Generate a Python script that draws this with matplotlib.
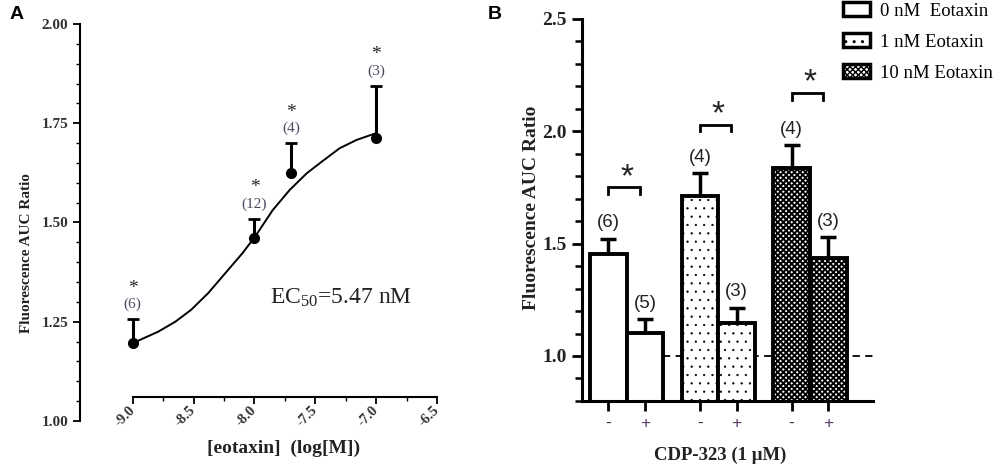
import numpy as np
import matplotlib
matplotlib.use("Agg")
import matplotlib.pyplot as plt
from matplotlib.patches import Patch

plt.rcParams['mathtext.default'] = 'regular'
plt.rcParams['hatch.linewidth'] = 1.0

SERIF = 'Liberation Serif'
SANS = 'Liberation Sans'

# ---------------- Panel A data ----------------
a_x = [-9.0, -8.0, -7.7, -7.0]
a_y = [1.196, 1.460, 1.624, 1.713]
a_err = [0.060, 0.049, 0.076, 0.131]
a_n = ['(6)', '(12)', '(4)', '(3)']
curve_x = [-9.0, -8.79, -8.65, -8.52, -8.38, -8.24, -8.10, -8.0, -7.85,
           -7.71, -7.57, -7.43, -7.30, -7.16, -7.0]
curve_y = [1.196, 1.225, 1.250, 1.280, 1.322, 1.372, 1.422, 1.462, 1.531,
           1.582, 1.624, 1.657, 1.687, 1.708, 1.725]
a_xticks = [-9.0, -8.5, -8.0, -7.5, -7.0, -6.5]
a_xticklabels = ['-9.0', '-8.5', '-8.0', '-7.5', '-7.0', '-6.5']
a_yticks = [1.00, 1.25, 1.50, 1.75, 2.00]
a_yticklabels = ['1.00', '1.25', '1.50', '1.75', '2.00']

# ---------------- Panel B data ----------------
b_groups = ['0 nM  Eotaxin', '1 nM Eotaxin', '10 nM Eotaxin']
b_vals = [1.454, 1.101, 1.712, 1.145, 1.835, 1.437]
b_errs = [0.067, 0.062, 0.101, 0.070, 0.104, 0.091]
b_n = ['(6)', '(5)', '(4)', '(3)', '(4)', '(3)']
b_ticklabels = ['-', '+', '-', '+', '-', '+']
b_bracket_y = [1.75, 2.03, 2.17]
b_yticks = [1.0, 1.5, 2.0, 2.5]
b_yticklabels = ['1.0', '1.5', '2.0', '2.5']

fig = plt.figure(figsize=(10, 4.7), dpi=100)

# ================= Panel A =================
axA = fig.add_axes([0.080, 0.1043, 0.357, 0.8447])
axA.set_xlim(-9.433, -6.5)
axA.set_ylim(1.0, 2.0)
for s in ['top', 'right']:
    axA.spines[s].set_visible(False)
axA.spines['left'].set_linewidth(1.5)
axA.spines['bottom'].set_linewidth(1.5)
axA.spines['bottom'].set_position(('data', 1.0605))
axA.spines['bottom'].set_bounds(-9.0, -6.5)
axA.spines['left'].set_bounds(1.0, 2.0)

axA.plot(curve_x, curve_y, color='black', lw=1.4, zorder=2)
eb = axA.errorbar(a_x, a_y, yerr=[np.zeros(len(a_err)), a_err], fmt='none',
                  ecolor='black', elinewidth=2.2, capsize=4, capthick=2.0, zorder=3)
for c in eb[1]:
    if np.allclose(c.get_ydata(), a_y):
        c.set_visible(False)
axA.plot(a_x, a_y, 'o', color='black', ms=7, zorder=4)

for xi, yi, ei, ni in zip(a_x, a_y, a_err, a_n):
    axA.annotate(ni, (xi, yi + ei), xytext=(0, 15), textcoords='offset pixels',
                 ha='center', va='center', fontsize=11, family=SERIF,
                 color='#4a4d60')
    axA.annotate('*', (xi, yi + ei), xytext=(0, 31), textcoords='offset pixels',
                 ha='center', va='center', fontsize=14, family=SERIF,
                 color='#222222')

axA.text(-7.87, 1.31, 'EC$_{50}$=5.47 nM', fontsize=17, family=SERIF,
         ha='left', va='center', color='#222222')

axA.set_yticks(a_yticks)
axA.set_yticklabels(a_yticklabels, family=SERIF, fontweight='bold', fontsize=11,
                    color='#333333')
axA.set_yticks(np.arange(1.0, 2.001, 0.05), minor=True)
axA.set_xticks(a_xticks)
axA.set_xticklabels(a_xticklabels, family=SERIF, fontweight='bold', fontsize=10.5,
                    color='#333333', rotation=45, ha='right', va='center',
                    rotation_mode='anchor')
axA.set_xticks(np.arange(-9.0, -6.49, 0.25), minor=True)
axA.tick_params(axis='both', which='major', direction='out', length=5, width=1.3)
axA.tick_params(axis='both', which='minor', direction='out', length=3, width=1.0)
axA.tick_params(axis='x', which='major', pad=3)

fig.text(0.027, 0.4617, 'Fluorescence AUC Ratio', rotation=90, family=SERIF,
         fontweight='bold', fontsize=11, ha='center', va='center', color='#222222')
fig.text(0.2835, 0.0468, '[eotaxin]  (log[M])', family=SERIF, fontweight='bold',
         fontsize=14, ha='center', va='center', color='#222222')
fig.text(0.010, 0.970, 'A', family=SANS, fontweight='bold', fontsize=14,
         ha='left', va='center')

# ================= Panel B =================
axB = fig.add_axes([0.5817, 0.147, 0.2916, 0.8126])
pos = [0, 1, 2.5, 3.5, 5, 6]
hatches = ['', '', '..', '..', 'xxxxxx', 'xxxxxx']
hatch_lw = [1.0, 1.0, 0.4, 0.4, 1.4, 1.4]
axB.set_xlim(-0.73, 7.23)
axB.set_ylim(0.8, 2.5)
for s in ['top', 'right']:
    axB.spines[s].set_visible(False)
axB.spines['left'].set_linewidth(2.2)
axB.spines['bottom'].set_linewidth(2.2)

axB.hlines(1.0, 1.5, 7.23, colors='black', linestyles=(0, (4, 3)), lw=1.3, zorder=1)
ebB = axB.errorbar(pos, b_vals, yerr=[np.zeros(len(b_errs)), b_errs], fmt='none',
                   ecolor='black', elinewidth=2.5, capsize=6, capthick=2.5, zorder=1.5)
for c in ebB[1]:
    if np.allclose(c.get_ydata(), b_vals):
        c.set_visible(False)
for p, v, h, hl in zip(pos, b_vals, hatches, hatch_lw):
    with plt.rc_context({'hatch.linewidth': hl}):
        axB.bar([p], [v], width=1.0, color='white', edgecolor='black',
                linewidth=2.8, hatch=h, zorder=2)

for xi, vi, ei, ni in zip(pos, b_vals, b_errs, b_n):
    axB.annotate(ni, (xi, vi + ei), xytext=(0, 16), textcoords='offset pixels',
                 ha='center', va='center', fontsize=13.5, family=SANS, color='#222222')

for g, by in enumerate(b_bracket_y):
    xl = pos[2 * g]
    xr = pos[2 * g + 1] - 0.15
    axB.plot([xl, xl, xr, xr], [by - 0.03, by, by, by - 0.03], color='black',
             lw=2.0, solid_joinstyle='miter', zorder=3)
    axB.annotate('*', ((pos[2 * g] + pos[2 * g + 1]) / 2, by), xytext=(0, 10),
                 textcoords='offset pixels', ha='center', va='center',
                 fontsize=24, family=SANS, color='#222222')

axB.set_yticks(b_yticks)
axB.set_yticklabels(b_yticklabels, family=SERIF, fontweight='bold', fontsize=14,
                    color='#222222')
axB.set_yticks(np.arange(0.8, 2.501, 0.1), minor=True)
axB.set_xticks(pos)
axB.set_xticklabels(b_ticklabels, family=SANS, fontsize=12.5)
for lbl in axB.get_xticklabels():
    lbl.set_color('#5a3a6a' if lbl.get_text() == '+' else '#333333')
axB.tick_params(axis='both', which='major', direction='out', length=7, width=2.0)
axB.tick_params(axis='y', which='minor', direction='out', length=5, width=1.8)
axB.tick_params(axis='x', which='major', pad=4)

fig.text(0.5317, 0.5574, 'Fluorescence AUC Ratio', rotation=90, family=SERIF,
         fontweight='bold', fontsize=14, ha='center', va='center', color='#222222')
fig.text(0.720, 0.0319, 'CDP-323 (1 μM)', family=SERIF, fontweight='bold',
         fontsize=13.5, ha='center', va='center', color='#222222')
fig.text(0.488, 0.970, 'B', family=SANS, fontweight='bold', fontsize=14,
         ha='left', va='center')

handles = []
for h, hl in zip(['', '..', 'xxxxxx'], [1.0, 0.4, 1.4]):
    with plt.rc_context({'hatch.linewidth': hl}):
        handles.append(Patch(facecolor='white', edgecolor='black', linewidth=2.5,
                             hatch=h))
fig.legend(handles, b_groups, loc='upper left', bbox_to_anchor=(0.826, 1.031),
           frameon=False, handlelength=1.45, handleheight=0.75, handletextpad=0.55,
           labelspacing=0.72, prop={'family': SERIF, 'size': 13.5})

fig.savefig('out.png', dpi=100)
